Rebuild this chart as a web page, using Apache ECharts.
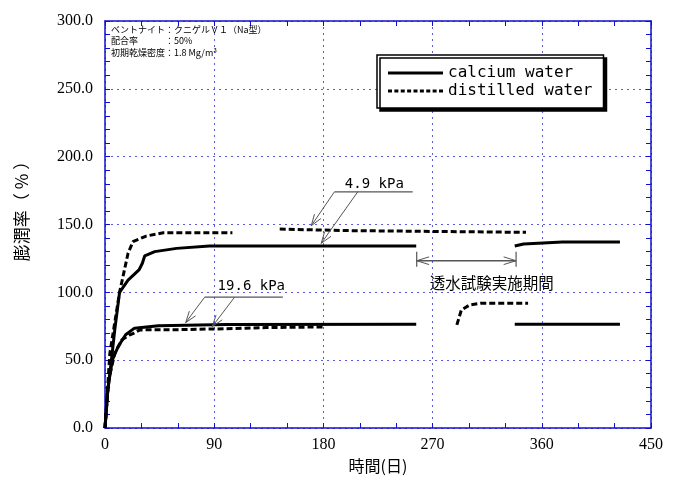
<!DOCTYPE html>
<html><head><meta charset="utf-8">
<script src="https://cdn.jsdelivr.net/npm/echarts@6/dist/echarts.min.js"></script>
<style>html,body{margin:0;padding:0;background:#fff}#c{width:682px;height:482px}</style>
</head><body><div id="c"></div>
<script>
// ---- data (days, swelling %) ----
const xTicks = [0, 90, 180, 270, 360, 450];
const yTicks = [0, 50, 100, 150, 200, 250, 300];
const seriesNames = ['calcium water', 'distilled water'];

const calcium49a = [[0,0],[2,25],[5.3,50],[8,72],[12,100],[19,109],[28,116.5],[30.8,121.4],[32.7,126.8],[41,130],[59,132.4],[86,134.1],[256.5,134.1]];
const calcium49b = [[337.7,134.1],[345,135.6],[377,137.1],[424.4,137.1]];
const calcium196a = [[0,0],[2.5,30],[6,50],[10.8,60],[17,68.7],[24.3,73.6],[44,75.3],[100,76.2],[256.5,76.5]];
const calcium196b = [[337.7,76.5],[424.4,76.5]];
const distilled49a = [[0,0],[4,55],[12,100],[15.4,114],[19,128.8],[23,137.3],[34,141.5],[48,143.9],[105,144]];
const distilled49b = [[144,146.6],[200,145.5],[260,145],[347,144.2]];
const distilled196a = [[0,0],[3,35],[8,55],[14,65],[20,68.5],[24,70],[28.8,72.3],[60,72.5],[90,73],[133,74],[180,74.5]];
const distilled196b = [[290,76],[293.7,87],[300.6,90.7],[310,92],[348.7,92]];

// ---- annotation anchors (data units) ----
const label49 = {text:'4.9 kPa', pos:[222,179.8], bar:[[189.1,174.1],[253.6,174.1]],
  arrows:[[[189.1,174.1],[170,149.1]],[[208.3,174.1],[178.2,136.1]]]};
const label196 = {text:'19.6 kPa', pos:[120.6,104.7], bar:[[82.1,96.4],[146.6,96.4]],
  arrows:[[[82.1,96.4],[66.5,77.7]],[[106.8,96.4],[88.4,74.8]]]};
const periodText = '透水試験実施期間';
const periodRange = [256.9, 338.8];
const periodY = 123.3, periodBar = [118.9, 130];
const periodLabelPos = [318.8, 107.1];

const infoLines = ['ベントナイト：クニゲルＶ１（Na型）', '配合率　　　：50%', '初期乾燥密度：1.8 Mg/m³'];

const AX = '#1010cc';
const GRIDC = '#5a5ae6';

function mk(name, data, dashed) {
  return {
    type: 'line', name: name, data: data, showSymbol: false, symbol: 'none',
    smooth: false, animation: false,
    lineStyle: {color: '#000', width: 3, type: dashed ? [6, 3] : 'solid'},
    itemStyle: {color: '#000'}, z: 5
  };
}

// legend icons: a solid bar and a dashed bar
const solidIcon = 'path://M0,0H55V3H0Z';
let dashIcon = 'path://';
for (let i = 0; i < 9; i++) dashIcon += 'M' + (i * 6.4) + ',0h4v3h-4Z';

const chart = echarts.init(document.getElementById('c'), null, {renderer: 'canvas'});
const tickFont = {fontFamily: 'Liberation Serif', fontSize: 16, color: '#000'};

chart.setOption({
  animation: false,
  backgroundColor: '#fff',
  grid: {left: 105, right: 31, top: 21, bottom: 54},
  legend: {
    orient: 'vertical', left: 377, top: 55,
    backgroundColor: '#fff', borderColor: '#000', borderWidth: 1.5,
    shadowColor: '#000', shadowOffsetX: 3, shadowOffsetY: 3, shadowBlur: 0,
    padding: [9, 11, 8, 11], itemGap: 0, itemWidth: 55, itemHeight: 3,
    textStyle: {fontFamily: 'DejaVu Sans Mono', fontSize: 16, color: '#000', lineHeight: 18},
    itemStyle: {color: '#000', borderWidth: 0},
    data: [
      {name: seriesNames[0], icon: solidIcon},
      {name: seriesNames[1], icon: dashIcon}
    ]
  },
  xAxis: [{
    type: 'value', min: xTicks[0], max: xTicks[xTicks.length - 1], interval: 90,
    name: '時間(日)', nameLocation: 'middle', nameGap: 29,
    nameTextStyle: {fontFamily: 'Noto Sans CJK JP', fontSize: 16, color: '#000'},
    axisLine: {show: true, onZero: false, lineStyle: {color: AX, width: 1.5}},
    axisTick: {show: true, inside: true, length: 5, lineStyle: {color: AX}},
    minorTick: {show: true, splitNumber: 3, length: 5, lineStyle: {color: AX}},
    axisLabel: Object.assign({margin: 9}, tickFont),
    splitLine: {show: true, lineStyle: {color: GRIDC, type: [2, 4], width: 1}}
  }, {
    type: 'value', position: 'top', min: 0, max: 450, interval: 90,
    axisLine: {show: true, onZero: false, lineStyle: {color: AX, width: 1.5}},
    axisTick: {show: true, inside: true, length: 5, lineStyle: {color: AX}},
    minorTick: {show: true, splitNumber: 3, length: 5, lineStyle: {color: AX}},
    axisLabel: {show: false}, splitLine: {show: false}
  }],
  yAxis: [{
    type: 'value', min: yTicks[0], max: yTicks[yTicks.length - 1], interval: 50,
    axisLine: {show: true, onZero: false, lineStyle: {color: AX, width: 1.5}},
    axisTick: {show: true, inside: true, length: 5, lineStyle: {color: AX}},
    minorTick: {show: true, splitNumber: 5, length: 5, lineStyle: {color: AX}},
    axisLabel: Object.assign({margin: 12, formatter: v => v.toFixed(1)}, tickFont),
    splitLine: {show: true, lineStyle: {color: GRIDC, type: [2, 4], width: 1}}
  }, {
    type: 'value', position: 'right', min: 0, max: 300, interval: 50,
    axisLine: {show: true, onZero: false, lineStyle: {color: AX, width: 1.5}},
    axisTick: {show: true, inside: true, length: 5, lineStyle: {color: AX}},
    minorTick: {show: true, splitNumber: 5, length: 5, lineStyle: {color: AX}},
    axisLabel: {show: false}, splitLine: {show: false}
  }],
  series: [
    mk(seriesNames[0], calcium49a, false),
    mk(seriesNames[0], calcium49b, false),
    mk(seriesNames[0], calcium196a, false),
    mk(seriesNames[0], calcium196b, false),
    mk(seriesNames[1], distilled49a, true),
    mk(seriesNames[1], distilled49b, true),
    mk(seriesNames[1], distilled196a, true),
    mk(seriesNames[1], distilled196b, true)
  ]
});

// ---- annotations, positioned via the chart's own scales ----
const P = p => chart.convertToPixel({gridIndex: 0}, p);
const ANN = '#555';
const els = [];
function line(a, b, w) {
  els.push({type: 'line', z: 10, shape: {x1: a[0], y1: a[1], x2: b[0], y2: b[1]},
    style: {stroke: ANN, lineWidth: w || 1}});
}
function head(from, tip, len, ang) {
  const dx = from[0] - tip[0], dy = from[1] - tip[1];
  const a = Math.atan2(dy, dx);
  [ang, -ang].forEach(s => {
    line(tip, [tip[0] + len * Math.cos(a + s), tip[1] + len * Math.sin(a + s)], 1);
  });
}
function txt(str, p, font, size) {
  els.push({type: 'text', z: 10, x: p[0], y: p[1],
    style: {text: str, fill: '#000', font: size + 'px "' + font + '"', textAlign: 'center', textVerticalAlign: 'middle'}});
}
[label49, label196].forEach(L => {
  const b0 = P(L.bar[0]), b1 = P(L.bar[1]);
  line(b0, b1, 1.2);
  L.arrows.forEach(ar => {
    const s = P(ar[0]), e = P(ar[1]);
    line(s, e, 1);
    head(s, e, 12, 0.33);
  });
  txt(L.text, P(L.pos), 'DejaVu Sans Mono', 14);
});
{
  const a = P([periodRange[0], periodY]), b = P([periodRange[1], periodY]);
  line(a, b, 1.5);
  head(b, a, 13, 0.3);
  head(a, b, 13, 0.3);
  const t0 = P([periodRange[0], periodBar[0]])[1], t1 = P([periodRange[0], periodBar[1]])[1];
  line([a[0], t0], [a[0], t1], 1.2);
  line([b[0], t0], [b[0], t1], 1.2);
  txt(periodText, P(periodLabelPos), 'Noto Sans CJK JP', 15.5);
}
infoLines.forEach((s, i) => {
  els.push({type: 'text', z: 10, x: 111, y: [30, 41, 53][i],
    style: {text: s, fill: '#000', font: '9px "Noto Sans CJK JP"', textAlign: 'left', textVerticalAlign: 'middle'}});
});
els.push({type: 'text', z: 10, x: 22, y: 207, rotation: Math.PI / 2,
  style: {text: '膨潤率（ % ）', fill: '#000', font: '17px "Noto Sans CJK JP"', textAlign: 'center', textVerticalAlign: 'middle'}});
chart.setOption({graphic: {elements: els}});
</script>
</body></html>
